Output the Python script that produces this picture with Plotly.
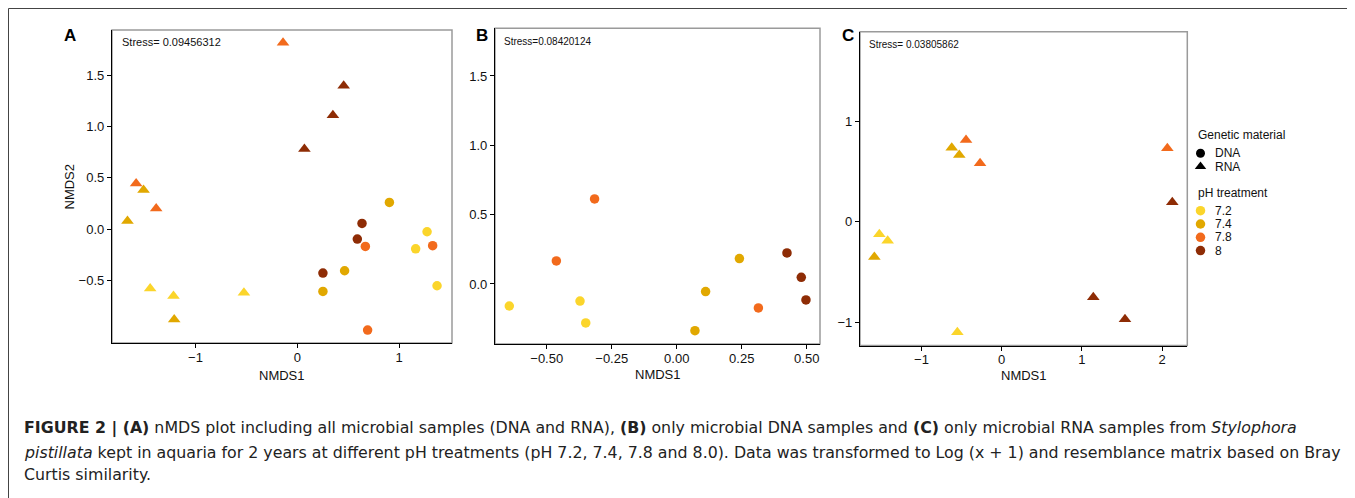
import plotly.graph_objects as go

W, H = 1355, 498
OFF = 8  # page offset of the figure div (body margin)
FONT = "Liberation Sans, Arial, Helvetica, sans-serif"
CAP_FONT = "DejaVu Sans, Verdana, sans-serif"

ph_levels = ["7.2", "7.4", "7.8", "8"]
ph_colors = {"7.2": "#FBD52B", "7.4": "#E1A800", "7.8": "#F26A1C", "8": "#8E2C05"}
materials = ["DNA", "RNA"]
symbols = {"DNA": "circle", "RNA": "triangle-up"}
sizes = {"DNA": 9.5, "RNA": 11}

# Panel A: all samples
a_dna_x = [0.905, 0.636, 0.590, 0.669, 1.275, 1.163, 1.330, 1.373, 0.252, 0.465, 0.252, 0.691]
a_dna_y = [0.260, 0.055, -0.097, -0.169, -0.026, -0.192, -0.162, -0.552, -0.429, -0.406, -0.607, -0.984]
a_dna_ph = ["7.4", "8", "8", "7.8", "7.2", "7.2", "7.8", "7.2", "8", "7.4", "7.4", "7.8"]
a_rna_x = [-0.140, 0.456, 0.350, 0.070, -1.583, -1.510, -1.386, -1.668, -1.445, -1.216, -1.209, -0.524]
a_rna_y = [1.816, 1.397, 1.110, 0.780, 0.445, 0.380, 0.200, 0.078, -0.578, -0.653, -0.880, -0.620]
a_rna_ph = ["7.8", "8", "8", "8", "7.8", "7.4", "7.8", "7.4", "7.2", "7.2", "7.4", "7.2"]

# Panel B: DNA only
b_x = [-0.644, -0.372, -0.350, -0.463, -0.316, 0.070, 0.111, 0.241, 0.314, 0.424, 0.479, 0.497]
b_y = [-0.159, -0.123, -0.281, 0.166, 0.613, -0.337, -0.055, 0.183, -0.173, 0.224, 0.048, -0.115]
b_ph = ["7.2", "7.2", "7.2", "7.8", "7.8", "7.4", "7.4", "7.4", "7.8", "8", "8", "8"]

# Panel C: RNA only
c_x = [-0.623, -0.529, -0.445, -0.270, -1.526, -1.422, -1.588, -0.553, 1.142, 1.537, 2.065, 2.127]
c_y = [0.735, 0.662, 0.811, 0.580, -0.125, -0.190, -0.350, -1.099, -0.751, -0.970, 0.729, 0.193]
c_ph = ["7.4", "7.4", "7.8", "7.8", "7.2", "7.2", "7.4", "7.2", "8", "8", "7.8", "8"]

stress_labels = ["Stress= 0.09456312", "Stress=0.08420124", "Stress= 0.03805862"]
panel_letters = ["A", "B", "C"]

fig = go.Figure()


def add_points(xs, ys, phs, material, xa, ya):
    for ph in ph_levels:
        px_ = [x for x, p in zip(xs, phs) if p == ph]
        py_ = [y for y, p in zip(ys, phs) if p == ph]
        if not px_:
            continue
        fig.add_trace(go.Scatter(
            x=px_, y=py_, mode="markers", xaxis=xa, yaxis=ya, showlegend=False,
            marker=dict(symbol=symbols[material], color=ph_colors[ph],
                        size=sizes[material], line=dict(width=0)),
            hoverinfo="x+y"))


add_points(a_dna_x, a_dna_y, a_dna_ph, "DNA", "x", "y")
add_points(a_rna_x, a_rna_y, a_rna_ph, "RNA", "x", "y")
add_points(b_x, b_y, b_ph, "DNA", "x2", "y2")
add_points(c_x, c_y, c_ph, "RNA", "x3", "y3")


def px(v):
    return (v - OFF) / W


def py(v):
    return 1 - (v - OFF) / H


# panel boxes in page pixels: left, right, top, bottom
boxes = [(112, 452, 30, 343), (495, 820, 28.3, 344), (860, 1187.3, 31.7, 345.5)]
xranges = [[-1.82, 1.52], [-0.699, 0.551], [-1.767, 2.314]]
yranges = [[-1.11, 1.94], [-0.433, 1.844], [-1.23, 1.887]]
xticks = [[-1, 0, 1], [-0.5, -0.25, 0, 0.25, 0.5], [-1, 0, 1, 2]]
yticks = [[-0.5, 0, 0.5, 1.0, 1.5], [0, 0.5, 1.0, 1.5], [-1, 0, 1]]
xfmt = ["d", ".2f", "d"]
yfmt = [".1f", ".1f", "d"]
xtitle_y = [375.5, 374.5, 375]

axis_common = dict(showline=True, linecolor="black", linewidth=1.3, ticks="outside",
                   ticklen=4, tickcolor="black", tickwidth=1, showgrid=False,
                   zeroline=False, tickfont=dict(size=13, color="#111", family=FONT))

layout = {}
shapes = []
annotations = []
for i, (l, r, t, b) in enumerate(boxes):
    sfx = "" if i == 0 else str(i + 1)
    layout["xaxis" + sfx] = dict(axis_common, domain=[px(l), px(r)], range=xranges[i],
                                 tickvals=xticks[i], tickformat=xfmt[i],
                                 anchor="y" + sfx, ticklabelstandoff=-2)
    layout["yaxis" + sfx] = dict(axis_common, domain=[py(b), py(t)], range=yranges[i],
                                 tickvals=yticks[i], tickformat=yfmt[i],
                                 anchor="x" + sfx)
    shapes.append(dict(type="rect", xref="x" + sfx + " domain", yref="y" + sfx + " domain",
                       x0=0, x1=1, y0=0, y1=1, line=dict(color="#9a9a9a", width=1.5),
                       layer="below"))
    annotations.append(dict(text="NMDS1", xref="paper", yref="paper", x=px((l + r) / 2),
                            y=py(xtitle_y[i]), showarrow=False, xanchor="center",
                            yanchor="middle", font=dict(size=13, color="#111", family=FONT)))
    annotations.append(dict(text=stress_labels[i], xref="paper", yref="paper",
                            x=px(l + 8 if i == 0 else l + 7), y=py(42 if i < 2 else 44),
                            showarrow=False, xanchor="left", yanchor="middle",
                            font=dict(size=11 if i == 0 else 10, color="#111", family=FONT)))

for letter, xp in zip(panel_letters, [70, 482, 848]):
    annotations.append(dict(text="<b>%s</b>" % letter, xref="paper", yref="paper",
                            x=px(xp), y=py(35), showarrow=False, xanchor="center",
                            yanchor="middle", font=dict(size=17, color="black", family=FONT)))

annotations.append(dict(text="NMDS2", xref="paper", yref="paper", x=px(69), y=py(186.5),
                        textangle=-90, showarrow=False, xanchor="center", yanchor="middle",
                        font=dict(size=13, color="#111", family=FONT)))

# Legend (manual, on a hidden helper axis in page-pixel units)
layout["xaxis4"] = dict(domain=[px(1190), px(1340)], range=[1190, 1340], visible=False,
                        anchor="y4", fixedrange=True)
layout["yaxis4"] = dict(domain=[py(265), py(120)], range=[265, 120], visible=False,
                        anchor="x4", fixedrange=True)
key_x, text_x, step = 1200.5, 1213, 13.3
mat_y0, ph_y0 = 153.3, 210.7
leg_font = dict(size=12, color="#111", family=FONT)
annotations.append(dict(text="Genetic material", xref="x4", yref="y4", x=1196, y=135,
                        showarrow=False, xanchor="left", yanchor="middle", font=leg_font))
annotations.append(dict(text="pH treatment", xref="x4", yref="y4", x=1196, y=192.7,
                        showarrow=False, xanchor="left", yanchor="middle", font=leg_font))
for j, m in enumerate(materials):
    yy = mat_y0 + j * step
    fig.add_trace(go.Scatter(x=[key_x], y=[yy], mode="markers", xaxis="x4", yaxis="y4",
                             showlegend=False, hoverinfo="skip",
                             marker=dict(symbol=symbols[m], color="black",
                                         size=9 if m == "DNA" else 10)))
    annotations.append(dict(text=m, xref="x4", yref="y4", x=text_x, y=yy, showarrow=False,
                            xanchor="left", yanchor="middle", font=leg_font))
for j, ph in enumerate(ph_levels):
    yy = ph_y0 + j * step
    fig.add_trace(go.Scatter(x=[key_x], y=[yy], mode="markers", xaxis="x4", yaxis="y4",
                             showlegend=False, hoverinfo="skip",
                             marker=dict(symbol="circle", color=ph_colors[ph], size=9.5)))
    annotations.append(dict(text=ph, xref="x4", yref="y4", x=text_x, y=yy, showarrow=False,
                            xanchor="left", yanchor="middle", font=leg_font))

# Caption
caption_lines = [
    "<b>FIGURE 2 | (A)</b> nMDS plot including all microbial samples (DNA and RNA), <b>(B)</b> only "
    "microbial DNA samples and <b>(C)</b> only microbial RNA samples from <i>Stylophora</i>",
    "<i>pistillata</i> kept in aquaria for 2 years at different pH treatments (pH 7.2, 7.4, 7.8 "
    "and 8.0). Data was transformed to Log (x + 1) and resemblance matrix based on Bray",
    "Curtis similarity.",
]
for txt, yy in zip(caption_lines, [428, 452, 474]):
    annotations.append(dict(text=txt, xref="paper", yref="paper", x=px(22), y=py(yy),
                            showarrow=False, xanchor="left", yanchor="middle",
                            font=dict(size=15.8, color="#222", family=CAP_FONT)))

# outer frame
shapes.append(dict(type="rect", xref="paper", yref="paper", x0=px(8.5), y0=-0.05, x1=1.05,
                   y1=py(8.5), line=dict(color="#444", width=1)))

fig.update_layout(**layout)
fig.update_layout(width=W, height=H, margin=dict(l=0, r=0, t=0, b=0),
                  paper_bgcolor="white", plot_bgcolor="white", shapes=shapes,
                  annotations=annotations, showlegend=False,
                  font=dict(family=FONT, color="#111"))

fig.write_html("out.html")
